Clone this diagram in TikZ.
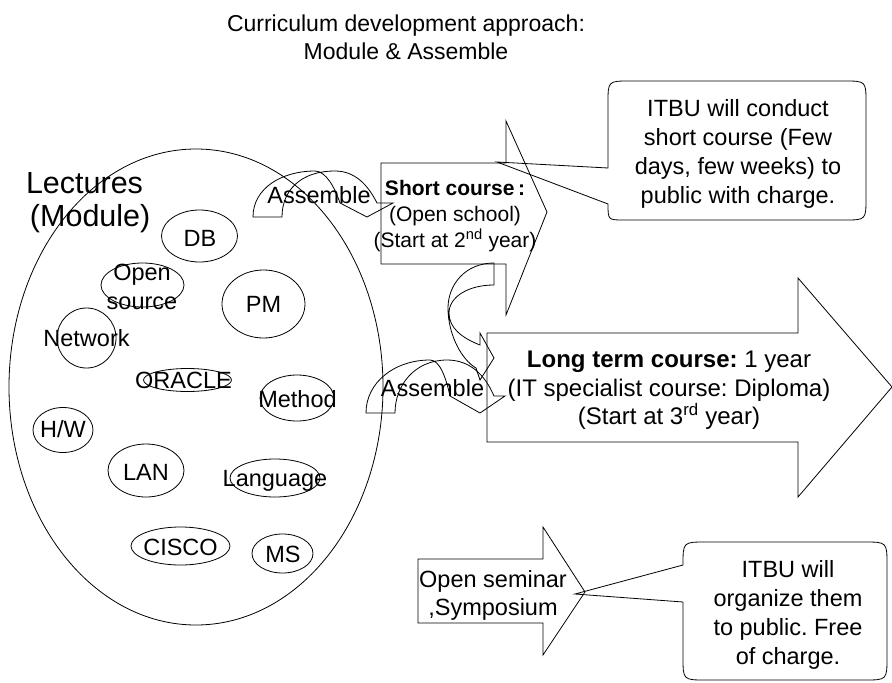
\documentclass[tikz,border=0pt]{standalone}
\usepackage{fontspec}
\setmainfont{Liberation Sans}
\usetikzlibrary{shapes.geometric}
\frenchspacing
\begin{document}
\begin{tikzpicture}[x=1pt,y=-1pt,line width=0.8pt,line join=miter,
  every node/.style={inner sep=0pt,outer sep=0pt},
  body/.style={font=\fontsize{23.5}{29}\selectfont,align=center},
  small/.style={font=\fontsize{21}{26}\selectfont,align=center},
  big/.style={font=\fontsize{30.5}{34}\selectfont},
  ring/.style={draw,ellipse},
  modtxt/.style={font=\fontsize{23.5}{28}\selectfont,anchor=base}]
\useasboundingbox (0,0) rectangle (892,683);

% heading
\node[body,font=\fontsize{23}{28}\selectfont] (title) at (406,37)
  {Curriculum development approach:\\Module \& Assemble};

% pool of lecture modules
\node[ring,minimum width=374pt,minimum height=476pt] (pool) at (196,387) {};
\node[big,anchor=base west] (lectures) at (26,193) {Lectures};
\node[big,anchor=base west] (module) at (30,226) {(Module)};

\node[ring,minimum width=76pt,minimum height=52pt] (dbring) at (199.5,236) {};
\node[modtxt] (db) at (200,246) {DB};
\node[ring,minimum width=83pt,minimum height=44pt] (osring) at (142.5,285) {};
\node[modtxt,anchor=center,align=center,font=\fontsize{23.5}{29}\selectfont] (os) at (142,287) {Open\\source};
\node[ring,minimum width=83pt,minimum height=68pt] (pmring) at (263.5,304) {};
\node[modtxt] (pm) at (263.5,312.7) {PM};
\node[ring,minimum width=59pt,minimum height=60pt] (netring) at (86.5,338) {};
\node[modtxt] (net) at (86.5,346) {Network};
\node[ring,minimum width=88pt,minimum height=23pt] (oraring) at (187.5,380) {};
\node[modtxt] (ora) at (183.5,388.7) {ORACLE};
\node[ring,minimum width=74pt,minimum height=46pt] (metring) at (297,398) {};
\node[modtxt] (met) at (297.5,407.3) {Method};
\node[ring,minimum width=60pt,minimum height=45pt] (hwring) at (63,430) {};
\node[modtxt] (hw) at (63,437.3) {H/W};
\node[ring,minimum width=76pt,minimum height=53pt] (lanring) at (146,470.5) {};
\node[modtxt] (lan) at (146,480) {LAN};
\node[ring,minimum width=90pt,minimum height=38pt] (lngring) at (275,478) {};
\node[modtxt] (lng) at (275,486.7) {Language};
\node[ring,minimum width=99pt,minimum height=38pt] (ciscoring) at (180.5,546) {};
\node[modtxt] (cisco) at (180.5,555) {CISCO};
\node[ring,minimum width=61pt,minimum height=39pt] (msring) at (282.5,553.5) {};
\node[modtxt] (ms) at (283,562.7) {MS};

% short course block arrow
\draw (381,163) -- (506,163) -- (506,121) -- (547,212) -- (506,315)
  -- (506,264) -- (381,264) -- cycle;
\node[small] (short) at (455,216)
  {\textbf{Short course\,:}\\(Open school)\\(Start at 2\textsuperscript{nd} year)};

% long term block arrow
\draw (487,333) -- (798,333) -- (798,278) -- (892,387) -- (798,497)
  -- (798,442) -- (487,442) -- cycle;
\node[body,font=\fontsize{24}{28.5}\selectfont] (long) at (669,390.5)
  {\textbf{Long term course:} 1 year\\(IT specialist course: Diploma)\\(Start at 3\textsuperscript{rd} year)};

% open seminar block arrow
\draw (418,559) -- (543,559) -- (543,527) -- (585,592) -- (543,655)
  -- (543,623) -- (418,623) -- cycle;
\node[body,font=\fontsize{23.5}{28}\selectfont] (seminar) at (493,595)
  {Open seminar\\,Symposium};

% curved "assemble" arrows
\draw (253,217) .. controls (253,188) and (282,171) .. (315,171)
  .. controls (326,171) and (335,188) .. (340,203) -- (367,217) -- (393,203)
  -- (377,203) .. controls (368,185) and (355,171) .. (335,171)
  .. controls (300,171) and (282,191) .. (282,217) -- cycle;
\node[modtxt] (asm1) at (319,203) {Assemble};

\draw (366,413) .. controls (366,382) and (395,360) .. (430,360)
  .. controls (440,360) and (446,378) .. (450,396) -- (480,413) -- (505,396)
  -- (494,396) .. controls (485,375) and (470,360) .. (447,360)
  .. controls (415,360) and (395,385) .. (395,413) -- cycle;
\node[modtxt] (asm2) at (432.5,396) {Assemble};

% curved arrow from short course down to long term course
\draw (494,263) .. controls (465,263) and (448,285) .. (448,308)
  .. controls (448,335) and (462,360) .. (476,368) -- (480,380) -- (494,358)
  -- (480,333) -- (480,345) .. controls (462,338) and (449,328) .. (449,313)
  .. controls (449,297) and (468,285) .. (494,285) -- cycle;

% callout: short course
\draw (608,168) -- (608,103) .. controls (608,81) .. (630,81) -- (844,81)
  .. controls (866,81) .. (866,103) -- (866,198) .. controls (866,220) .. (844,220)
  -- (624,220) .. controls (608,220) .. (608,204) -- (497,162) -- cycle;
\node[body] (note1) at (738,153.5)
  {ITBU will conduct\\short course (Few\\days, few weeks) to\\public with charge.};

% callout: open seminar
\draw (683,602) -- (683,657) .. controls (683,680) .. (706,680) -- (864,680)
  .. controls (887,680) .. (887,657) -- (887,565) .. controls (887,542) .. (864,542)
  -- (706,542) .. controls (683,542) .. (683,565) -- (575,594) -- cycle;
\node[body] (note2) at (788,614.5)
  {ITBU will\\organize them\\to public. Free\\of charge.};
\end{tikzpicture}
\end{document}
